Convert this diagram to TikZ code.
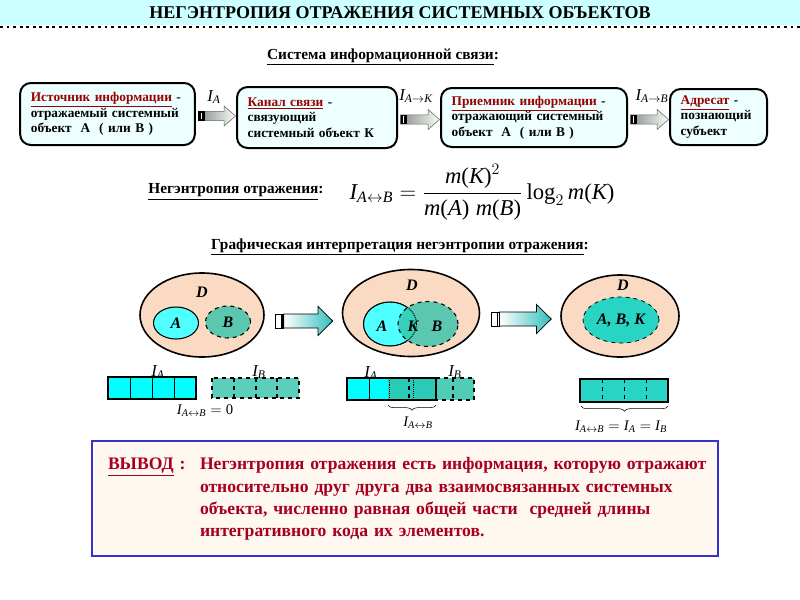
\documentclass[tikz,border=0pt]{standalone}
\usepackage{amsmath}
\usepackage{fontspec}
\setmainfont{Liberation Serif}
\usetikzlibrary{shapes.geometric,calc,decorations.pathreplacing,positioning}

\definecolor{titlecyan}{RGB}{204,255,255}
\definecolor{boxcyan}{RGB}{238,255,255}
\definecolor{headred}{RGB}{153,0,0}
\definecolor{peach}{RGB}{250,218,194}
\definecolor{aqua}{RGB}{80,255,255}
\definecolor{cyanbar}{RGB}{0,255,255}
\definecolor{tealB}{RGB}{50,195,170}
\definecolor{turq}{RGB}{40,212,195}
\definecolor{arrowteal}{RGB}{51,190,190}
\definecolor{concred}{RGB}{165,0,33}
\definecolor{concblue}{RGB}{51,51,204}
\definecolor{concfill}{RGB}{255,248,240}

\newcommand{\redhead}[1]{\textcolor{headred}{\underline{#1}}}
\newcommand{\Ivar}[1]{$\textit{I}_{#1}$}
\newcommand{\mof}[1]{\textit{m}\textrm{(}\textit{#1}\textrm{)}}

% block arrow between two boxes of the chain
\newcommand{\infoarrow}[2]{%
  \path[draw=black!60, left color=black!45, right color=green!4]
    let \p1=($(#1.east)+(2.5,2)$), \p2=($(#2.west)+(-0.5,0)$) in
    (\x1,\y1+3.4pt) -- (\x2-8.5pt,\y1+3.4pt) -- (\x2-8.5pt,\y1+7.5pt) -- (\x2,\y1)
    -- (\x2-8.5pt,\y1-7.5pt) -- (\x2-8.5pt,\y1-3.4pt) -- (\x1,\y1-3.4pt) -- cycle;
  \fill[black] let \p1=($(#1.east)+(2.5,2)$) in
    (\x1,\y1+3.4pt) rectangle (\x1+5pt,\y1-3.4pt);
  \draw[white, line width=0.5pt] let \p1=($(#1.east)+(2.5,2)$) in
    (\x1+2pt,\y1+2.4pt) -- (\x1+2pt,\y1-2.4pt);
}
% big arrow between two fields
\newcommand{\flowarrow}[2]{%
  \path[draw=black, line width=0.6pt, left color=white, right color=arrowteal]
    let \p1=($(#1.east)+(11,6)$), \p2=($(#2.west)+(-9,0)$) in
    (\x1+6pt,\y1+5.25pt) -- (\x2-11pt,\y1+5.25pt) -- (\x2-11pt,\y1+10.9pt) -- (\x2,\y1)
    -- (\x2-11pt,\y1-10.9pt) -- (\x2-11pt,\y1-5.25pt) -- (\x1+6pt,\y1-5.25pt) -- cycle;
  \draw[fill=white, line width=0.6pt] let \p1=($(#1.east)+(11,6)$) in
    (\x1,\y1+5.25pt) rectangle (\x1+6pt,\y1-5.25pt);
  \draw[line width=1.3pt] let \p1=($(#1.east)+(11,6)$) in
    (\x1+4.6pt,\y1+5.25pt) -- (\x1+4.6pt,\y1-5.25pt);
}

\tikzset{
  infobox/.style={draw, line width=1.5pt, rounded corners=8pt, fill=boxcyan, align=left,
    inner xsep=8pt, inner ysep=2pt, font=\fontsize{10}{11.6}\selectfont\bfseries},
  heading/.style={font=\fontsize{11.5}{13}\selectfont\bfseries},
  ivar/.style={font=\fontsize{11}{12}\selectfont, inner sep=0pt},
  ivarbig/.style={font=\fontsize{12.5}{13}\selectfont, inner sep=0pt},
  field/.style={ellipse, draw, line width=1.2pt, fill=peach, inner sep=0pt},
  setA/.style={ellipse, draw, line width=0.8pt, fill=aqua, inner sep=0pt},
  setB/.style={ellipse, draw, dashed, line width=0.8pt, fill=tealB, fill opacity=0.8,
    text opacity=1, inner sep=0pt},
  setAB/.style={ellipse, draw, dashed, line width=0.6pt, fill=turq, inner sep=0pt},
  setlabel/.style={font=\fontsize{12}{12}\selectfont\bfseries\itshape, inner sep=0pt},
  codebar/.style={line width=1.5pt},
  conclbox/.style={draw=concblue, line width=1.5pt, fill=concfill, text=concred, align=left,
    font=\fontsize{13.2}{16.5}\selectfont\bfseries, inner xsep=12pt}
}

\begin{document}
\begin{tikzpicture}[x=0.75pt, y=-0.75pt]
\useasboundingbox (0,0) rectangle (800,600);

% title
\fill[titlecyan] (0,0) rectangle (800,25);
\node[font=\fontsize{13.5}{15}\selectfont\bfseries] (title) at (400,13) {НЕГЭНТРОПИЯ ОТРАЖЕНИЯ СИСТЕМНЫХ ОБЪЕКТОВ};
\draw[line width=1.8pt, dash pattern=on 2.2pt off 2.7pt] (0,27) -- (800,27);

% chain of information link
\node[heading] (chainhead) at (383,57) {\underline{Система информационной связи}:};

\node[infobox, text width=115pt, minimum height=46.5pt] (src) at (107.5,114)
  {\redhead{Источник информации} -\\отражаемый системный\\объект\ \ А\ \ ( или В )};
\node[infobox, text width=104pt, minimum height=45.75pt] (chan) at (317,117.5)
  {\redhead{Канал связи} -\\связующий\\системный объект К};
\node[infobox, text width=123.5pt, minimum height=44.25pt] (recv) at (534,117.5)
  {\redhead{Приемник информации} -\\отражающий системный\\объект\ \ А\ \ ( или В )};
\node[infobox, text width=56.75pt, minimum height=42pt] (dest) at (718.5,117)
  {\redhead{Адресат} -\\познающий\\субъект};

\infoarrow{src}{chan}
\infoarrow{chan}{recv}
\infoarrow{recv}{dest}

\node[ivarbig] (Ia) at (214,97) {\Ivar{\textit{A}}};
\node[ivarbig] (Iak) at (416,96) {\Ivar{\textit{A}\rightarrow \textit{K}}};
\node[ivarbig] (Iab) at (652,96) {\Ivar{\textit{A}\rightarrow \textit{B}}};

% negentropy formula
\node[heading] (neghead) at (236,192) {\underline{Негэнтропия отражения}:};
\node[font=\fontsize{17}{19}\selectfont] (negf) at (482,192)
  {$\textit{I}_{\textit{A}\leftrightarrow\textit{B}} = \dfrac{\mof{K}^{2}}{\mof{A}\;\mof{B}}\,\textrm{log}_{2}\,\mof{K}$};

\node[heading] (graphhead) at (400,247) {\underline{Графическая интерпретация негэнтропии отражения}:};

% fields
\node[field, minimum width=93pt, minimum height=63pt] (D1) at (202,315) {};
\node[setlabel] (D1l) at (202,292) {D};
\node[setA, minimum width=33.75pt, minimum height=24pt] (A1) at (176,323) {};
\node[setB, minimum width=33.75pt, minimum height=24pt] (B1) at (228,322) {};
\node[setlabel] (A1l) at (A1) {A};
\node[setlabel] (B1l) at (B1) {B};

\node[field, minimum width=102.75pt, minimum height=65.25pt] (D2) at (411,313) {};
\node[setlabel] (D2l) at (412,285) {D};
\node[setA, minimum width=39.75pt, minimum height=33pt] (A2) at (390,324) {};
\node[setB, minimum width=45pt, minimum height=33.75pt] (B2) at (428,324) {};
\draw[line width=0.6pt, densely dotted] (A2.center) ellipse [x radius=19.9pt, y radius=16.5pt];
\node[setlabel] (A2l) at (382,326) {A};
\node[setlabel] (K2l) at (413,326) {K};
\node[setlabel] (B2l) at (437,326) {B};

\node[field, minimum width=88.5pt, minimum height=61.5pt] (D3) at (620,316) {};
\node[setlabel] (D3l) at (623,285) {D};
\node[setAB, minimum width=57pt, minimum height=34.5pt] (ABK) at (621,320) {};
\node[setlabel] (ABKl) at (ABK) {A, B, K};

\flowarrow{D1}{D2}
\flowarrow{D2}{D3}

% code bars, first field
\draw[codebar, fill=cyanbar] (108,377) rectangle (196,399);
\foreach \x in {130,152,174} \draw (\x,377) -- (\x,399);
\draw[codebar, dashed, fill=tealB, fill opacity=0.8] (212,378) rectangle (299,398);
\foreach \x in {234,256,277} \draw[dashed, line width=1.2pt] (\x,378) -- (\x,398);
\node[ivarbig] (IA1) at (158,372) {\Ivar{\textit{A}}};
\node[ivarbig] (IB1) at (259,372) {\Ivar{\textit{B}}};
\node[ivar] (IAB1) at (205,411) {$\textit{I}_{\textit{A}\leftrightarrow\textit{B}} = \textrm{0}$};

% code bars, second field
\draw[codebar, fill=cyanbar] (347,378) rectangle (436,400);
\draw (369,378) -- (369,400);
\fill[tealB, opacity=0.85] (388,378) rectangle (474,400);
\draw[codebar, dashed] (436,378) -- (474,378) -- (474,400) -- (436,400);
\draw[densely dotted] (389,378) -- (389,400);
\draw[densely dotted] (413,378) -- (413,400);
\foreach \x in {409,453} \draw[dashed, line width=1.2pt] (\x,378) -- (\x,400);
\draw[codebar] (347,378) rectangle (436,400);
\node[ivarbig] (IA2) at (371,373) {\Ivar{\textit{A}}};
\node[ivarbig] (IB2) at (455,372) {\Ivar{\textit{B}}};
\coordinate (ovl-l) at (388,405);
\coordinate (ovl-r) at (436,405);
\draw[decorate, decoration={brace, mirror, amplitude=4pt}] (ovl-l) -- (ovl-r);
\node[ivar] (IAB2) at (418,423) {$\textit{I}_{\textit{A}\leftrightarrow\textit{B}}$};

% code bar, third field
\draw[line width=2pt, fill=turq] (580,379) rectangle (668,402);
\foreach \x in {602,624,646} \draw[dashed] (\x,379) -- (\x,402);
\coordinate (full-l) at (581,406);
\coordinate (full-r) at (668,406);
\draw[decorate, decoration={brace, mirror, amplitude=4pt}] (full-l) -- (full-r);
\node[ivar] (IAB3) at (621,427) {$\textit{I}_{\textit{A}\leftrightarrow\textit{B}} = \textit{I}_{\textit{A}} = \textit{I}_{\textit{B}}$};

% conclusion
\node[conclbox, text width=445.5pt, minimum height=86.25pt] (concl) at (405,498.5)
  {\begin{tabular}{@{}p{69pt}@{}l@{}}
   \underline{ВЫВОД} : & Негэнтропия отражения есть информация, которую отражают\\
   & относительно друг друга два взаимосвязанных системных\\
   & объекта, численно равная общей части\ \ средней длины\\
   & интегративного кода их элементов.
   \end{tabular}};
\end{tikzpicture}
\end{document}
